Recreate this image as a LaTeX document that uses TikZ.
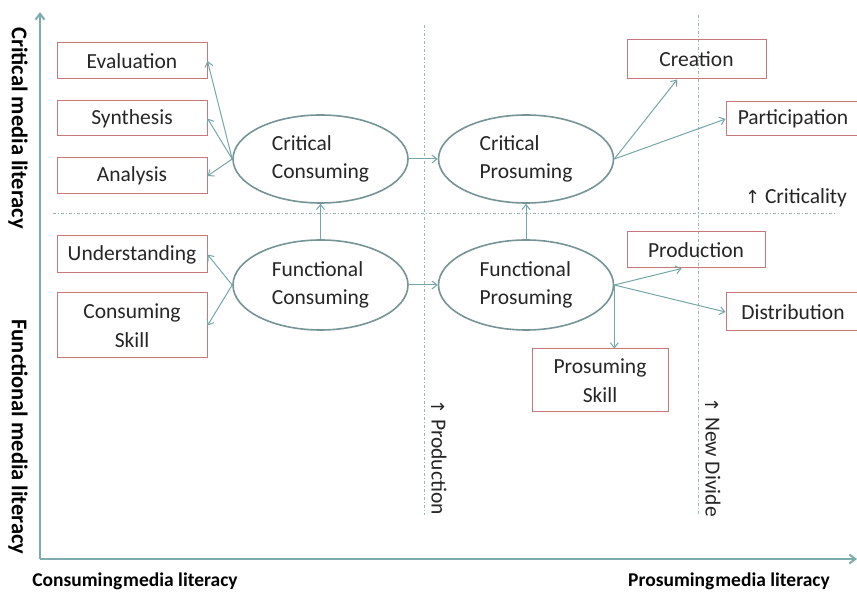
\documentclass[tikz,border=0pt]{standalone}
\usepackage{fontspec}
\setmainfont{Carlito}
\newfontfamily\symfont{DejaVu Sans}
\usetikzlibrary{arrows.meta,shapes.geometric}
\definecolor{axisc}{RGB}{125,172,174}
\definecolor{linec}{RGB}{118,166,170}
\definecolor{boxc}{RGB}{200,120,122}
\definecolor{ellc}{RGB}{118,148,150}
\definecolor{txtc}{RGB}{38,38,38}
\definecolor{dashc}{RGB}{150,182,184}
\begin{document}
\begin{tikzpicture}[x=1pt,y=-1pt,
  txt/.style={font=\fontsize{21.5}{28.5}\selectfont, text=txtc},
  box/.style={txt, draw=boxc, line width=1pt, minimum width=150pt, minimum height=36pt, inner sep=0pt, align=center},
  oval/.style={txt, ellipse, draw=ellc, line width=1.6pt, minimum width=175pt, minimum height=88pt, inner sep=0pt, align=left},
  conn/.style={draw=linec, line width=1pt, -{Straight Barb[length=5pt,width=8pt]}},
  guide/.style={draw=dashc, line width=0.9pt, dash pattern=on 3pt off 2pt on 1pt off 2pt},
  axis/.style={draw=axisc, line width=2pt, -{Straight Barb[length=6pt,width=9pt]}},
  axlabel/.style={font=\bfseries\fontsize{22.5}{26}\selectfont, text=black, inner sep=0pt},
  botlabel/.style={font=\bfseries\fontsize{19.5}{24}\selectfont, text=black, inner sep=0pt},
  note/.style={txt, inner sep=0pt}]
\useasboundingbox[fill=white] (0,0) rectangle (857,593);

% axes
\coordinate (o) at (40,559);
\coordinate (ytop) at (40,12);
\coordinate (xend) at (857,559);
\draw[axis] (o) -- (ytop);
\draw[axis] (o) -- (xend);

% dashed guides
\coordinate (h1) at (53,213);
\coordinate (h2) at (837,213);
\coordinate (v1a) at (424,25);
\coordinate (v1b) at (424,515);
\coordinate (v2a) at (698,15);
\coordinate (v2b) at (698,515);
\draw[guide] (h1) -- (h2);
\draw[guide] (v1a) -- (v1b);
\draw[guide] (v2a) -- (v2b);

% boxes
\node[box] (eval) at (132,61) {Evaluation};
\node[box, minimum height=35pt] (synth) at (132,118.5) {Synthesis};
\node[box] (anal) at (132,176) {Analysis};
\node[box, minimum height=37pt] (under) at (132,254.5) {Understanding};
\node[box, minimum height=65pt] (cskill) at (132,325.5) {Consuming\\Skill};
\node[box, minimum width=139pt, minimum height=39pt] (creation) at (696.5,59.5) {Creation};
\node[box, minimum width=134pt, minimum height=34pt] (particip) at (793,119) {Participation};
\node[box, minimum width=138pt] (production) at (696,250) {Production};
\node[box, minimum width=134pt, minimum height=38pt] (distrib) at (793,312) {Distribution};
\node[box, minimum width=136pt, minimum height=63pt] (pskill) at (600,380.5) {Prosuming\\Skill};

% ellipses
\node[oval] (cc) at (320.5,159) {Critical\\Consuming};
\node[oval] (cp) at (526,159) {Critical\\Prosuming};
\node[oval, minimum height=90pt] (fc) at (320.5,285) {Functional\\Consuming};
\node[oval, minimum height=90pt] (fp) at (526,285) {Functional\\Prosuming};

% connectors
\draw[conn] (cc.west) -- (eval.east);
\draw[conn] (cc.west) -- (synth.east);
\draw[conn] (cc.west) -- (anal.east);
\draw[conn] (fc.west) -- (under.east);
\draw[conn] (fc.west) -- (cskill.east);
\draw[conn] (cp.east) -- (creation.226);
\draw[conn] (cp.east) -- (particip.west);
\draw[conn] (fp.east) -- (production.232);
\draw[conn] (fp.east) -- (distrib.west);
\draw[conn] (fp.east) -- (fp.east |- pskill.north);
\draw[conn] (fc.north) -- (cc.south);
\draw[conn] (fp.north) -- (cp.south);
\draw[conn] (cc.east) -- (cp.west);
\draw[conn] (fc.east) -- (fp.west);

% notes
\node[note] (crit) at (796,198) {{\symfont\fontsize{18}{22}\selectfont ↑} Criticality};
\node[note, rotate=-90] (prodnote) at (439,457) {{\symfont\fontsize{18}{22}\selectfont ↑} Production};
\node[note, rotate=-90] (divnote) at (713,457) {{\symfont\fontsize{18}{22}\selectfont ↑} New Divide};

% axis labels
\node[axlabel, rotate=-90] (ylab1) at (18,128) {Critical media literacy};
\node[axlabel, rotate=-90] (ylab2) at (18,437) {Functional media literacy};
\node[botlabel] (xlab1) at (135,581) {Consuming\hspace{1pt}media literacy};
\node[botlabel] (xlab2) at (729,581) {Prosuming\hspace{1pt}media literacy};
\end{tikzpicture}
\end{document}
